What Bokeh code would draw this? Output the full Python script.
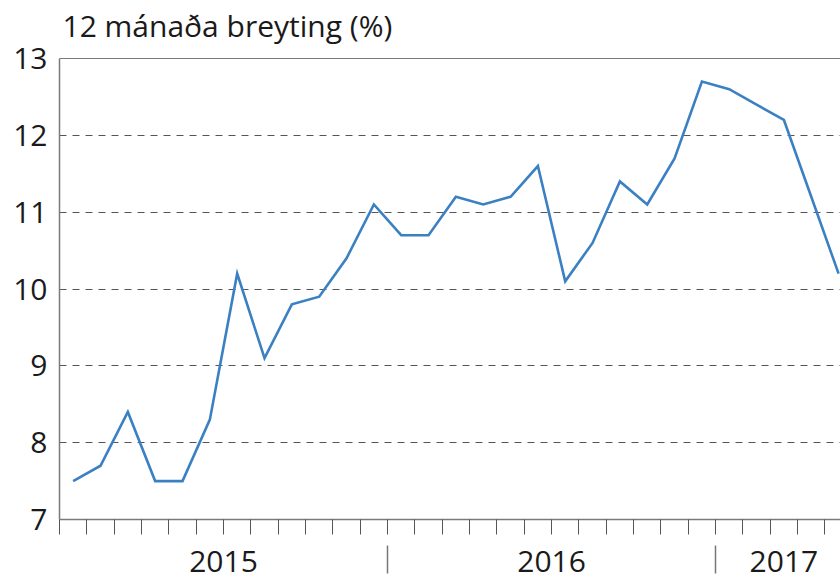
from bokeh.plotting import figure
from bokeh.models import Range1d, FixedTicker, LinearAxis, Label, Span
from bokeh.embed import file_html
from bokeh.resources import INLINE

# ---- data ----
months = ["2015-01", "2015-02", "2015-03", "2015-04", "2015-05", "2015-06",
          "2015-07", "2015-08", "2015-09", "2015-10", "2015-11", "2015-12",
          "2016-01", "2016-02", "2016-03", "2016-04", "2016-05", "2016-06",
          "2016-07", "2016-08", "2016-09", "2016-10", "2016-11", "2016-12",
          "2017-01", "2017-02", "2017-03", "2017-04", "2017-05"]
values = [7.5, 7.7, 8.4, 7.5, 7.5, 8.3, 10.2, 9.1, 9.8, 9.9, 10.4, 11.1,
          10.7, 10.7, 11.2, 11.1, 11.2, 11.6, 10.1, 10.6, 11.4, 11.1, 11.7, 12.7,
          12.6, 12.4, 12.2, 11.2, 10.2]
years = ["2015", "2016", "2017"]
year_month_counts = [12, 12, 5]
y_ticks = [7, 8, 9, 10, 11, 12, 13]
grid_ticks = [8, 9, 10, 11, 12]
title_text = "12 mánaða breyting (%)"

FONT = "Open Sans"
TXT = "#1a1a1a"
FS = "30px"

x = [i + 0.5 for i in range(len(months))]
y_min, y_max = y_ticks[0], y_ticks[-1]
# frame reaches the top of the canvas; the extra room above y_max holds the title
y_top = y_max + 0.755

p = figure(width=840, height=579, output_backend="svg", toolbar_location=None,
           x_range=Range1d(0, 28.57), y_range=Range1d(y_min, y_top),
           min_border_left=59, min_border_right=0, min_border_top=0,
           min_border_bottom=60, background_fill_color="white",
           border_fill_color="white")

p.outline_line_color = None

# top border of the plot area
p.add_layout(Span(location=y_max, dimension="width", line_color="#7a7a7a",
                  line_width=1.2))

# x axis: month ticks + year separators (minor ticks)
year_starts = [sum(year_month_counts[:i]) for i in range(len(years))]
separators = year_starts[1:]
p.xaxis.ticker = FixedTicker(ticks=list(range(0, len(months) + 1)), minor_ticks=separators)
p.xaxis.major_label_overrides = {i: "" for i in range(0, len(months) + 1)}
p.xaxis.major_label_text_font_size = "1px"
p.xaxis.major_label_standoff = 0
p.xaxis.axis_line_color = "#7a7a7a"
p.xaxis.axis_line_width = 1.5
p.xaxis.major_tick_line_color = "#555555"
p.xaxis.major_tick_line_width = 1
p.xaxis.major_tick_in = 0
p.xaxis.major_tick_out = 15
p.xaxis.minor_tick_line_color = "#777777"
p.xaxis.minor_tick_line_width = 1.5
p.xaxis.minor_tick_in = -26
p.xaxis.minor_tick_out = 54

# second x axis for year labels
year_centers = [s + n / 2 for s, n in zip(year_starts, year_month_counts)]
yax = LinearAxis(ticker=FixedTicker(ticks=year_centers, minor_ticks=[]),
                 major_label_overrides={c: yr for c, yr in zip(year_centers, years)})
yax.axis_line_color = None
yax.major_tick_line_color = None
yax.minor_tick_line_color = None
yax.major_tick_in = 0
yax.major_tick_out = 0
yax.major_label_text_font = FONT
yax.major_label_text_font_size = FS
yax.major_label_text_color = TXT
yax.major_label_standoff = -23
p.add_layout(yax, "below")

# y axis
p.yaxis.ticker = FixedTicker(ticks=y_ticks)
p.yaxis.bounds = (y_min, y_max)
p.yaxis.major_tick_in = 0
p.yaxis.major_tick_out = 0
p.yaxis.minor_tick_line_color = None
p.yaxis.axis_line_color = "#7a7a7a"
p.yaxis.axis_line_width = 1.5
p.yaxis.major_label_text_font = FONT
p.yaxis.major_label_text_font_size = FS
p.yaxis.major_label_text_color = TXT
p.yaxis.major_label_standoff = 12

p.xgrid.visible = False
p.ygrid.ticker = FixedTicker(ticks=grid_ticks)
p.ygrid.grid_line_color = "#555555"
p.ygrid.grid_line_width = 1
p.ygrid.grid_line_dash = "7 6"

p.line(x, values, line_color="#3b80c3", line_width=2.6, line_join="miter")

# title, inside the plot area above the top border
p.add_layout(Label(x=0, y=y_max + 0.43, x_offset=3, text=title_text,
                   text_align="left", text_baseline="middle", text_font=FONT,
                   text_font_size=FS, text_color=TXT))

open("out.html", "w").write(file_html(p, INLINE))
